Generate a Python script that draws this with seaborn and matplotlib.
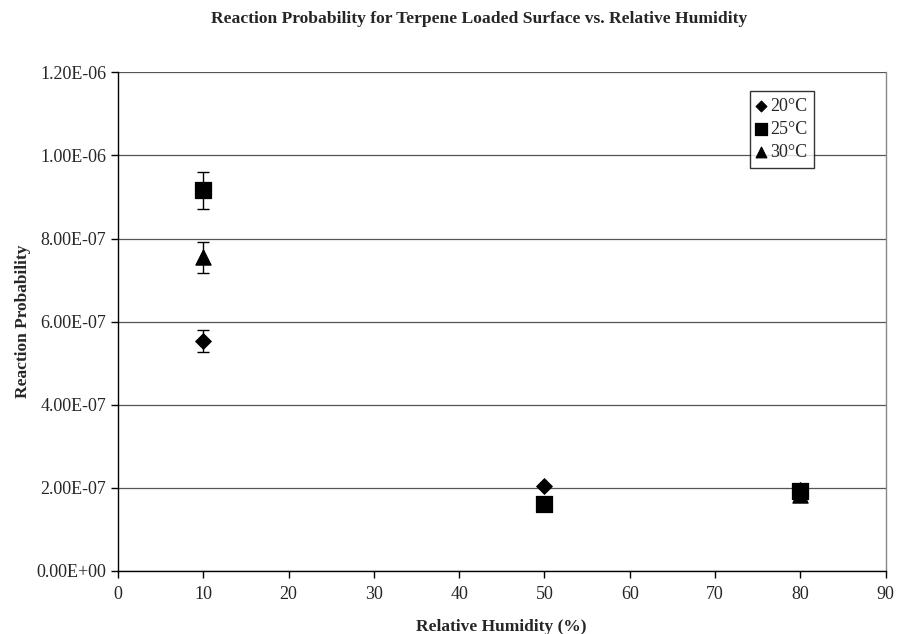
import numpy as np
import pandas as pd
import matplotlib
matplotlib.use("Agg")
import matplotlib.pyplot as plt
import seaborn as sns

humidity = [10, 50, 80]
temps = ["20°C", "25°C", "30°C"]
prob_20 = [5.53e-7, 2.04e-7, 1.95e-7]
prob_25 = [9.16e-7, 1.60e-7, 1.92e-7]
prob_30 = [7.55e-7, np.nan, 1.83e-7]
err_20 = [2.7e-8, 0.0, 0.0]
err_25 = [4.5e-8, 0.0, 0.0]
err_30 = [3.7e-8, 0.0, 0.0]

rows = []
for t, vals, errs in zip(temps, [prob_20, prob_25, prob_30], [err_20, err_25, err_30]):
    for h, v, e in zip(humidity, vals, errs):
        rows.append({"rh": h, "prob": v, "err": e, "temp": t})
df = pd.DataFrame(rows).dropna()

sns.set_style("white")
plt.rcParams["font.family"] = ["Liberation Serif", "DejaVu Serif"]

fig = plt.figure(figsize=(9, 6.34), dpi=100)
ax = fig.add_axes([0.131, 0.0994, 0.853, 0.7866])

# error bars first, under the markers
for t in temps:
    sub = df[(df["temp"] == t) & (df["err"] > 0)]
    ax.errorbar(sub["rh"], sub["prob"], yerr=sub["err"], fmt="none",
                ecolor="black", elinewidth=1, capsize=4, capthick=1, zorder=2)

markers = {"20°C": "D", "25°C": "s", "30°C": "^"}
sizes = {"20°C": 65, "25°C": 130, "30°C": 120}
for t in temps:
    sub = df[df["temp"] == t]
    sns.scatterplot(data=sub, x="rh", y="prob", marker=markers[t], s=sizes[t],
                    color="black", edgecolor="black", label=t, ax=ax, zorder=3)

ax.set_xlim(0, 90)
ax.set_ylim(0, 1.2e-6)
ax.set_xticks(np.arange(0, 91, 10))
yt = np.arange(0, 1.21e-6, 2e-7)
ax.set_yticks(yt)
ax.set_yticklabels([f"{v:.2E}" for v in yt])
ax.tick_params(axis="both", direction="out", length=5, width=1, color="black",
               labelsize=13, left=True, bottom=True)
ax.tick_params(axis="x", pad=6)
ax.yaxis.grid(True, color="#555555", linewidth=0.9)
ax.set_axisbelow(True)
for s in ["left", "bottom"]:
    ax.spines[s].set_color("black")
    ax.spines[s].set_linewidth(1)
ax.spines["top"].set_visible(False)
ax.spines["right"].set_color("#888888")
ax.spines["right"].set_linewidth(1)

ax.set_xlabel("Relative Humidity (%)", fontsize=12.5, fontweight="bold", labelpad=11)
ax.set_ylabel("Reaction Probability", fontsize=12.5, fontweight="bold", labelpad=4)
fig.suptitle("Reaction Probability for Terpene Loaded Surface vs. Relative Humidity",
             fontsize=12.6, fontweight="bold", x=0.532, y=0.983)

leg = ax.legend(loc="upper left", bbox_to_anchor=(0.823, 0.962), frameon=True,
                fancybox=False, edgecolor="black", fontsize=13, handlelength=0.6,
                handletextpad=0.2, borderpad=0.35, labelspacing=0.35, borderaxespad=0,
                markerscale=0.7)
leg.get_frame().set_linewidth(1)

fig.savefig("out.png", dpi=100)
